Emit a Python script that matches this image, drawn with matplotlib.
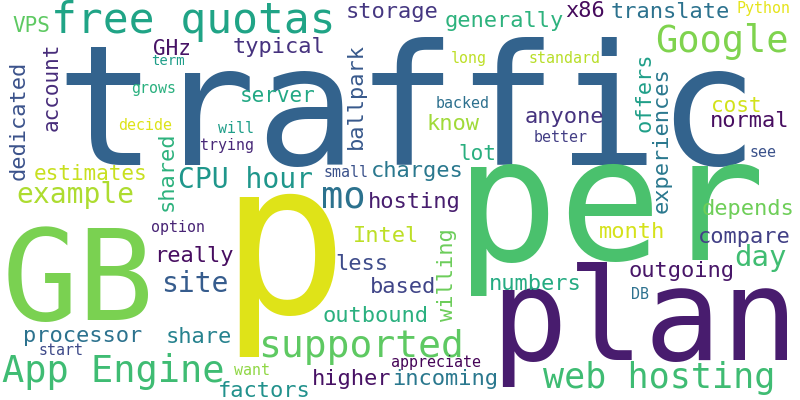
import matplotlib
matplotlib.use("Agg")
import matplotlib.pyplot as plt

# ---- data: words and their weights (word-cloud frequencies) ----
words = ["traffic", "per", "p", "plan", "GB", "free quotas", "App Engine", "supported",
         "web hosting", "Google", "mo", "CPU hour", "example", "site", "day",
         "VPS", "storage", "typical", "GHz", "term", "grows", "server", "decide", "will",
         "trying", "estimates", "small", "charges", "hosting", "generally", "x86",
         "translate", "Python", "long", "standard", "backed", "know", "anyone", "cost",
         "normal", "better", "lot", "see", "option", "Intel", "really", "less", "based",
         "outbound", "processor", "share", "start", "want", "factors", "higher",
         "incoming", "appreciate", "depends", "month", "compare", "outgoing", "numbers",
         "DB", "account", "dedicated", "ballpark", "shared", "offers", "experiences",
         "willing"]
weights = [167, 172, 213, 128, 127, 43, 37, 38,
           35, 37, 37, 28, 28, 28, 29,
           21, 22, 22, 21, 14, 15, 21, 15, 15,
           15, 21, 15, 22, 22, 22, 22,
           22, 15, 15, 15, 15, 22, 22, 21,
           22, 15, 21, 15, 15, 22, 22, 22, 22,
           22, 22, 22, 15, 15, 22, 22,
           22, 15, 22, 22, 22, 22, 22,
           15, 21, 22, 22, 22, 22, 22,
           22]

# ---- layout (pixel anchors: centre x / baseline y, or baseline x / centre y if vertical) ----
anchor_x = [407, 610, 283, 644, 78, 193, 113, 361,
            659, 722, 343, 246, 75, 195, 761,
            31, 392, 279, 172, 168, 154, 278, 145, 236,
            227, 91, 346, 417, 414, 504, 585,
            670, 763, 469, 565, 463, 453, 564, 736,
            750, 561, 477, 763, 178, 386, 194, 362, 403,
            376, 83, 199, 61, 252, 264, 352,
            445, 436, 748, 632, 744, 681, 535,
            640, 58, 25, 362, 173, 650, 668,
            453]
anchor_y = [165, 260, 313, 360, 320, 33, 382, 357,
            388, 52, 208, 188, 203, 292, 266,
            32, 18, 53, 55, 65, 93, 102, 130, 133,
            150, 180, 177, 177, 208, 27, 17,
            18, 13, 63, 63, 108, 130, 123, 112,
            127, 142, 160, 157, 232, 242, 262, 270, 293,
            322, 342, 343, 355, 375, 397, 385,
            385, 367, 215, 238, 243, 277, 290,
            299, 87, 120, 96, 171, 92, 140,
            275]
vertical = ["account", "dedicated", "ballpark", "shared", "offers", "experiences", "willing"]
colors = ["#33638d", "#4ac16d", "#dfe318", "#481c6e", "#7ad151", "#20a486", "#3fbc73", "#5ec962",
          "#3fbc73", "#7fd34e", "#2c728e", "#1f968b", "#addc30", "#365c8d", "#40bd72",
          "#5ec962", "#453781", "#46327e", "#471365", "#1f9e89", "#2ab07f", "#22a884", "#dde318", "#1f9e89",
          "#482878", "#c8e020", "#3b528b", "#2a788e", "#471d6e", "#2db27d", "#450a5c",
          "#2c728e", "#e5e419", "#bddf26", "#b8de29", "#2d708e", "#a0da39", "#46337f", "#d2e21b",
          "#470d60", "#433e85", "#29af7f", "#3b528b", "#482475", "#bddf26", "#470d60", "#3e4c8a", "#404588",
          "#2ab07f", "#2c728e", "#26828e", "#3e4a89", "#8fd744", "#21918c", "#471164",
          "#2a788e", "#450457", "#6ece58", "#d5e21a", "#424086", "#481668", "#25ab82",
          "#2d718e", "#472c7a", "#3b528b", "#38598c", "#2db27d", "#1f9f88", "#2a788e",
          "#6ccd5a"]

fig = plt.figure(figsize=(8, 4), dpi=100, facecolor="white")
ax = fig.add_axes([0, 0, 1, 1])
ax.set_xlim(0, 800)
ax.set_ylim(400, 0)
ax.axis("off")

for w, s, x, y, c in zip(words, weights, anchor_x, anchor_y, colors):
    rot = 90 if w in vertical else 0
    ax.text(x, y, w, fontsize=s * 0.72, color=c, family="DejaVu Sans Mono",
            ha="center", va="baseline", rotation=rot, rotation_mode="anchor")

fig.savefig("out.png", dpi=100, facecolor="white")
